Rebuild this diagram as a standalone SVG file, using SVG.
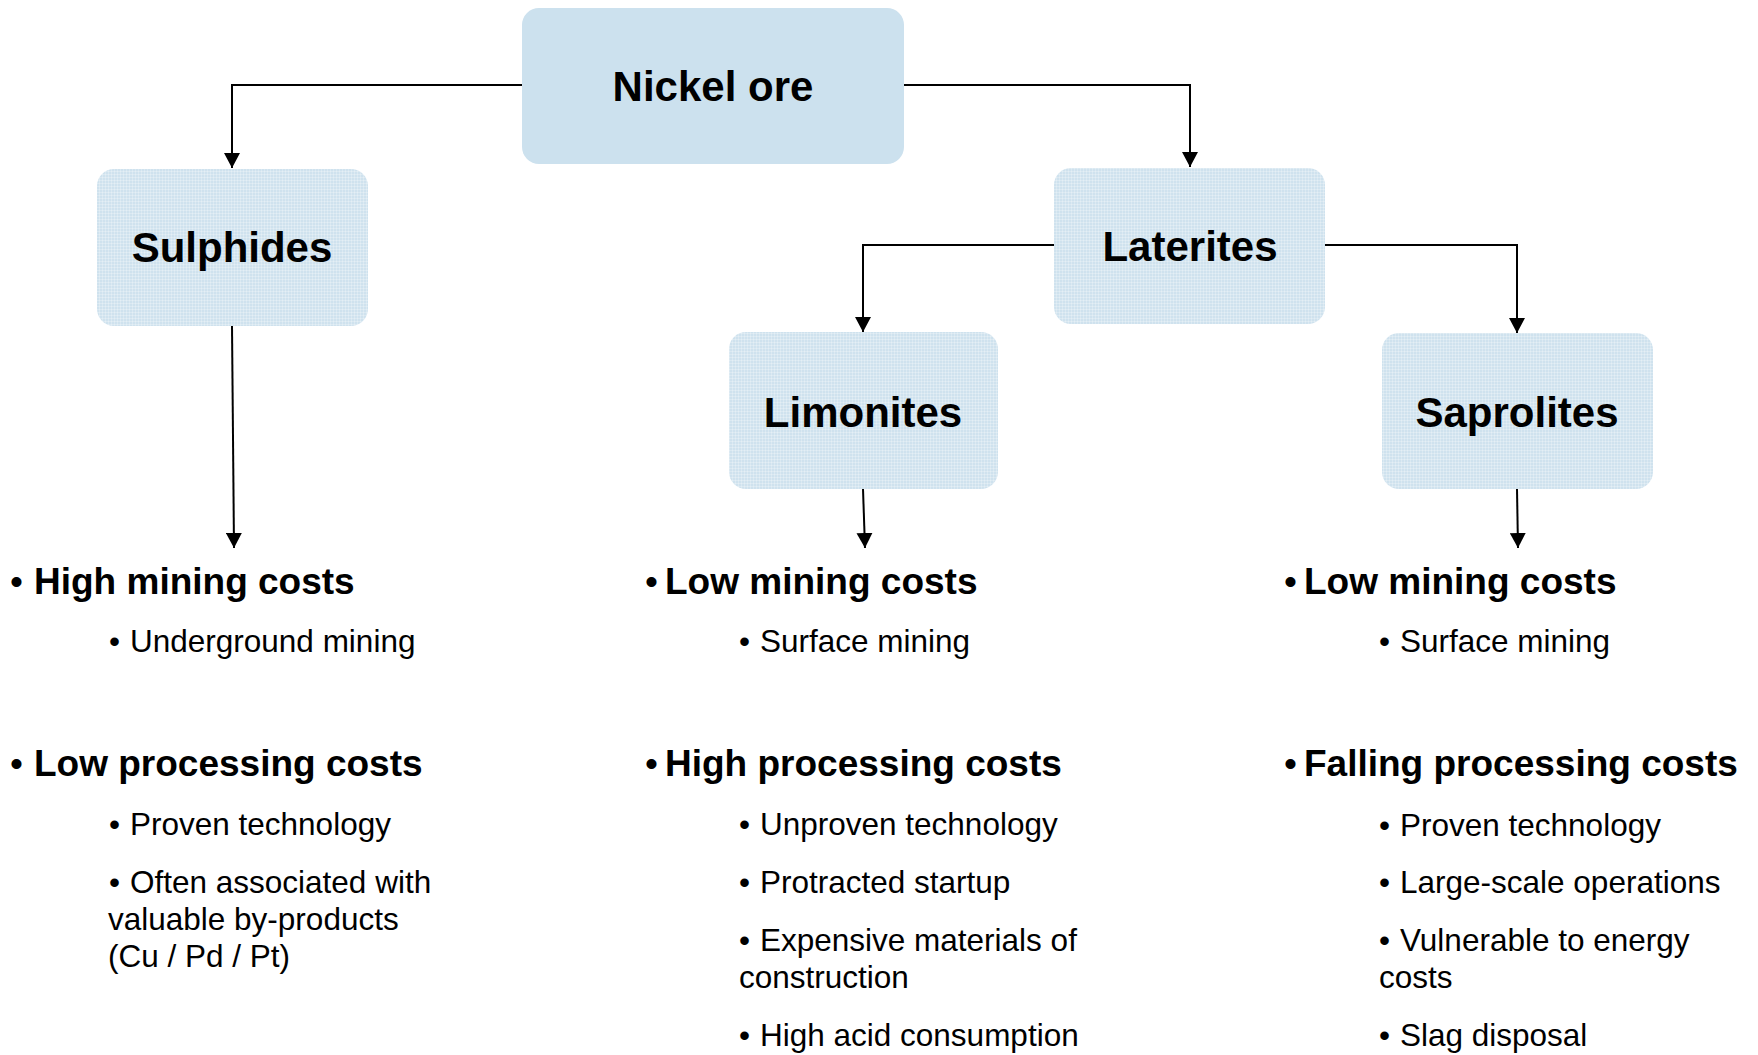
<svg xmlns="http://www.w3.org/2000/svg" width="1758" height="1055" viewBox="0 0 1758 1055">
  <style>
    .node { stroke: none; }
    .label { font-family: "Liberation Sans", Arial, sans-serif; font-weight: bold; font-size: 42px; fill: #000; text-anchor: middle; }
    .conn { fill: none; stroke: #000; stroke-width: 2; }
    .h { font-family: "Liberation Sans", Arial, sans-serif; font-weight: bold; font-size: 37px; fill: #000; }
    .s { font-family: "Liberation Sans", Arial, sans-serif; font-size: 31.5px; fill: #000; }
    .b { font-weight: normal; }
  </style>
  <defs>
    <pattern id="tex" width="3" height="3" patternUnits="userSpaceOnUse">
      <rect width="3" height="3" fill="#cfe2ee"/>
      <rect width="1" height="3" fill="#ffffff" fill-opacity="0.25"/>
      <rect width="3" height="1" fill="#ffffff" fill-opacity="0.25"/>
    </pattern>
    <marker id="arrow" viewBox="0 0 15 16" refX="15" refY="8" markerWidth="15" markerHeight="16" markerUnits="userSpaceOnUse" orient="auto">
      <path d="M0,0 L15,8 L0,16 Z" fill="#000"/>
    </marker>
  </defs>
  <rect width="1758" height="1055" fill="#ffffff"/>

  <g id="connectors">
    <polyline class="conn" points="522,85 232,85 232,168" marker-end="url(#arrow)"/>
    <polyline class="conn" points="904,85 1190,85 1190,167" marker-end="url(#arrow)"/>
    <polyline class="conn" points="1054,245 863,245 863,332" marker-end="url(#arrow)"/>
    <polyline class="conn" points="1325,245 1517,245 1517,333" marker-end="url(#arrow)"/>
    <line class="conn" x1="232" y1="326" x2="234" y2="548" marker-end="url(#arrow)"/>
    <line class="conn" x1="863" y1="489" x2="865" y2="548" marker-end="url(#arrow)"/>
    <line class="conn" x1="1517" y1="489" x2="1518" y2="548" marker-end="url(#arrow)"/>
  </g>

  <g id="nickel-ore">
    <rect class="node" x="522" y="8" width="382" height="156" rx="17" fill="#cce1ee"/>
    <text class="label" x="713" y="101">Nickel ore</text>
  </g>
  <g id="sulphides">
    <rect class="node" x="97" y="169" width="271" height="157" rx="17" fill="url(#tex)"/>
    <text class="label" x="232" y="262">Sulphides</text>
  </g>
  <g id="laterites">
    <rect class="node" x="1054" y="168" width="271" height="156" rx="17" fill="url(#tex)"/>
    <text class="label" x="1190" y="261">Laterites</text>
  </g>
  <g id="limonites">
    <rect class="node" x="729" y="332" width="269" height="157" rx="17" fill="url(#tex)"/>
    <text class="label" x="863" y="427">Limonites</text>
  </g>
  <g id="saprolites">
    <rect class="node" x="1382" y="333" width="271" height="156" rx="17" fill="url(#tex)"/>
    <text class="label" x="1517" y="427">Saprolites</text>
  </g>

  <g id="sulphides-notes">
    <text class="h" y="594"><tspan class="b" x="10">•</tspan><tspan x="34">High mining costs</tspan></text>
    <text class="s" y="652"><tspan x="109">•</tspan><tspan x="130">Underground mining</tspan></text>
    <text class="h" y="776"><tspan class="b" x="10">•</tspan><tspan x="34">Low processing costs</tspan></text>
    <text class="s" y="835"><tspan x="109">•</tspan><tspan x="130">Proven technology</tspan></text>
    <text class="s" y="893"><tspan x="109">•</tspan><tspan x="130">Often associated with</tspan></text>
    <text class="s" x="108" y="930">valuable by-products</text>
    <text class="s" x="108" y="967">(Cu / Pd / Pt)</text>
  </g>

  <g id="limonites-notes">
    <text class="h" y="594"><tspan class="b" x="645">•</tspan><tspan x="665">Low mining costs</tspan></text>
    <text class="s" y="652"><tspan x="739">•</tspan><tspan x="760">Surface mining</tspan></text>
    <text class="h" y="776"><tspan class="b" x="645">•</tspan><tspan x="665">High processing costs</tspan></text>
    <text class="s" y="835"><tspan x="739">•</tspan><tspan x="760">Unproven technology</tspan></text>
    <text class="s" y="893"><tspan x="739">•</tspan><tspan x="760">Protracted startup</tspan></text>
    <text class="s" y="951"><tspan x="739">•</tspan><tspan x="760">Expensive materials of</tspan></text>
    <text class="s" x="739" y="988">construction</text>
    <text class="s" y="1046"><tspan x="739">•</tspan><tspan x="760">High acid consumption</tspan></text>
  </g>

  <g id="saprolites-notes">
    <text class="h" y="594"><tspan class="b" x="1284">•</tspan><tspan x="1304">Low mining costs</tspan></text>
    <text class="s" y="652"><tspan x="1379">•</tspan><tspan x="1400">Surface mining</tspan></text>
    <text class="h" y="776"><tspan class="b" x="1284">•</tspan><tspan x="1304">Falling processing costs</tspan></text>
    <text class="s" y="836"><tspan x="1379">•</tspan><tspan x="1400">Proven technology</tspan></text>
    <text class="s" y="893"><tspan x="1379">•</tspan><tspan x="1400">Large-scale operations</tspan></text>
    <text class="s" y="951"><tspan x="1379">•</tspan><tspan x="1400">Vulnerable to energy</tspan></text>
    <text class="s" x="1379" y="988">costs</text>
    <text class="s" y="1046"><tspan x="1379">•</tspan><tspan x="1400">Slag disposal</tspan></text>
  </g>
</svg>
